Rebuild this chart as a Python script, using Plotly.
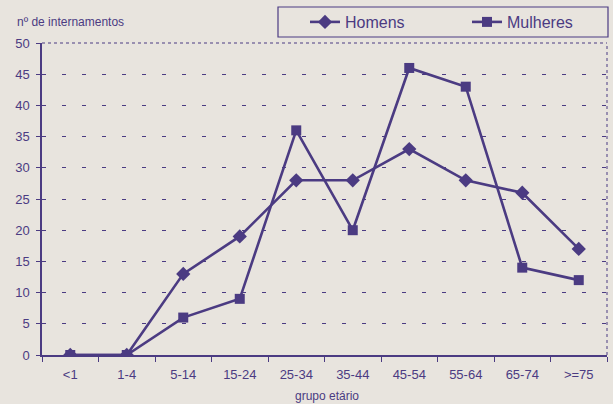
import plotly.graph_objects as go

categories = ["<1", "1-4", "5-14", "15-24", "25-34", "35-44", "45-54", "55-64", "65-74", ">=75"]
homens = [0, 0, 13, 19, 28, 28, 33, 28, 26, 17]
mulheres = [0, 0, 6, 9, 36, 20, 46, 43, 14, 12]
y_ticks = [0, 5, 10, 15, 20, 25, 30, 35, 40, 45, 50]

ink = "#4b3b82"
bg = "#e8e4de"
font = "Liberation Sans, Arial, sans-serif"

W, H = 613, 404
ML, MR, MT, MB = 42, 6, 43, 49
PW = W - ML - MR
PH = H - MT - MB


def px_x(p):
    return (p - ML) / PW


def px_y(p):
    return 1 + (MT - p) / PH


fig = go.Figure()
fig.add_trace(go.Scatter(x=categories, y=homens, name="Homens", mode="lines+markers",
                         line=dict(color=ink, width=2.6),
                         marker=dict(symbol="diamond", size=11, color=ink), legend="legend"))
fig.add_trace(go.Scatter(x=categories, y=mulheres, name="Mulheres", mode="lines+markers",
                         line=dict(color=ink, width=2.6),
                         marker=dict(symbol="square", size=10, color=ink), legend="legend2"))
# invisible trace for the inner tick axis
fig.add_trace(go.Scatter(x=categories, y=homens, yaxis="y2", mode="none",
                         showlegend=False, hoverinfo="skip"))

leg_common = dict(orientation="h", xanchor="left", yanchor="middle", y=px_y(22),
                  bgcolor="rgba(0,0,0,0)", borderwidth=0,
                  font=dict(size=16, color=ink, family=font))

fig.update_layout(
    width=W, height=H,
    margin=dict(l=ML, r=MR, t=MT, b=MB, autoexpand=False),
    paper_bgcolor=bg, plot_bgcolor=bg,
    font=dict(family=font, color=ink, size=13),
    showlegend=True,
    legend=dict(x=px_x(305), **leg_common),
    legend2=dict(x=px_x(467), **leg_common),
    xaxis=dict(type="category", range=[-0.5, len(categories) - 0.5],
               tickson="boundaries", ticks="outside", ticklen=5,
               tickcolor=ink, showline=True, linecolor=ink, linewidth=1.5,
               showgrid=False, tickfont=dict(size=13, color=ink), ticklabelstandoff=7),
    yaxis=dict(range=[0, 50], tickvals=y_ticks, ticks="outside", ticklen=4,
               tickcolor=ink, showline=True, linecolor=ink, linewidth=1.5,
               showgrid=True, gridcolor=ink, gridwidth=1, griddash="4px,16px",
               zeroline=False, tickfont=dict(size=13, color=ink), ticklabelstandoff=4),
    yaxis2=dict(range=[0, 50], overlaying="y", tickvals=y_ticks, ticks="inside", ticklen=3,
                tickcolor=ink, showticklabels=False, showgrid=False, zeroline=False,
                showline=False, side="left"),
)

fig.add_annotation(text="nº de internamentos", xref="paper", yref="paper",
                   x=px_x(15), y=px_y(22), xanchor="left", yanchor="middle",
                   showarrow=False, font=dict(size=12, color=ink, family=font))
fig.add_annotation(text="grupo etário", xref="paper", yref="paper",
                   x=px_x(327), y=px_y(396), xanchor="center", yanchor="middle",
                   showarrow=False, font=dict(size=12, color=ink, family=font))

# legend frame
fig.add_shape(type="rect", xref="paper", yref="paper",
              x0=px_x(278), x1=px_x(608), y0=px_y(37), y1=px_y(7),
              line=dict(color=ink, width=1.2), fillcolor="rgba(0,0,0,0)")

# dotted top and right borders
fig.add_shape(type="line", xref="paper", yref="paper", x0=0, x1=1, y0=1, y1=1,
              line=dict(color=ink, width=1, dash="dot"))
fig.add_shape(type="line", xref="paper", yref="paper", x0=1, x1=1, y0=0, y1=1,
              line=dict(color=ink, width=1, dash="dot"))

fig.write_html("out.html", config={"displayModeBar": False},
               post_script="document.body.style.margin='0';")
